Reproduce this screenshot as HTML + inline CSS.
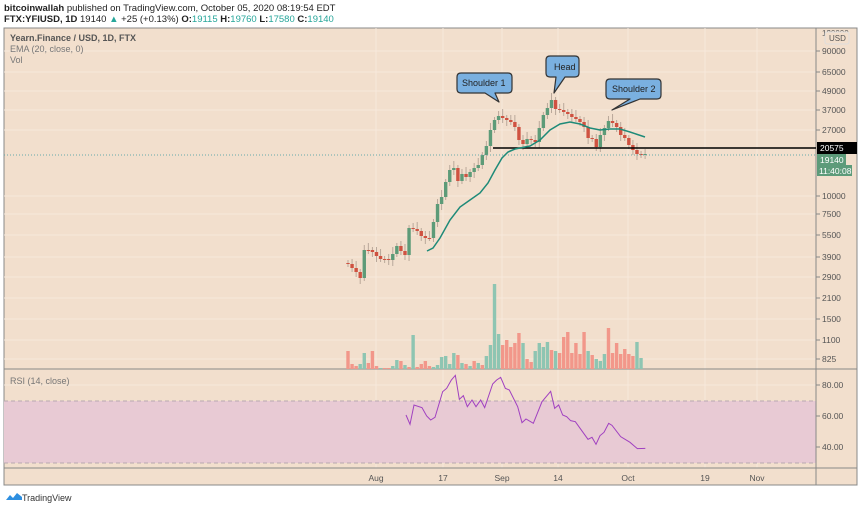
<!DOCTYPE html>
<html><head><meta charset="utf-8"><style>
body{margin:0;background:#fff;width:860px;height:509px;overflow:hidden;font-family:"Liberation Sans",sans-serif}
svg text{font-family:"Liberation Sans",sans-serif}
</style></head><body>
<svg id="s" width="860" height="509" xmlns="http://www.w3.org/2000/svg">
<text x="4" y="11" font-size="9.5" fill="#222"><tspan font-weight="bold">bitcoinwallah</tspan> published on TradingView.com, October 05, 2020 08:19:54 EDT</text>
<text x="4" y="22" font-size="9.5" fill="#222"><tspan font-weight="bold">FTX:YFIUSD, 1D</tspan> 19140 <tspan fill="#26a69a">▲</tspan> +25 (+0.13%) <tspan font-weight="bold">O:</tspan><tspan fill="#26a69a">19115</tspan> <tspan font-weight="bold">H:</tspan><tspan fill="#26a69a">19760</tspan> <tspan font-weight="bold">L:</tspan><tspan fill="#26a69a">17580</tspan> <tspan font-weight="bold">C:</tspan><tspan fill="#26a69a">19140</tspan></text>
<rect x="4" y="28" width="853" height="457" fill="#f2dfcd" stroke="#888" stroke-width="1"/>
<g id="grid" stroke="#f7e9dc" stroke-width="1"></g>
<rect x="4" y="401" width="812" height="62" fill="#e8cad4"/>
<line x1="4" y1="401" x2="816" y2="401" stroke="#b8a8b0" stroke-dasharray="4,3"/>
<line x1="4" y1="463" x2="816" y2="463" stroke="#b8a8b0" stroke-dasharray="4,3"/>
<line x1="816" y1="28" x2="816" y2="485" stroke="#888"/>
<line x1="4" y1="369" x2="857" y2="369" stroke="#888"/>
<line x1="4" y1="468" x2="857" y2="468" stroke="#888"/>
<g id="vol"></g><g id="cdl"></g>
<line x1="4" y1="155" x2="816" y2="155" stroke="#6aa" stroke-dasharray="1,2"/>
<line x1="493" y1="148" x2="816" y2="148" stroke="#000" stroke-width="1.5"/>
<polyline id="ema" fill="none" stroke="#1e8a78" stroke-width="1.5"/>
<polyline id="rsi" fill="none" stroke="#a040c0" stroke-width="1"/>
<g font-size="8.5" fill="#555" id="ax"></g>
<text x="10" y="41" font-size="9" font-weight="bold" fill="#555">Yearn.Finance / USD, 1D, FTX</text>
<text x="10" y="52" font-size="9" fill="#777">EMA (20, close, 0)</text>
<text x="10" y="63" font-size="9" fill="#777">Vol</text>
<text x="10" y="384" font-size="9" fill="#777">RSI (14, close)</text>
<text x="822" y="36" font-size="8" fill="#555">120000</text>
<rect x="825" y="32" width="24" height="12" fill="#f2dfcd" stroke="#ddd" rx="2"/><text x="829" y="41" font-size="8" fill="#555">USD</text>
<rect x="817" y="142" width="40" height="12" fill="#000"/><text x="820" y="151" font-size="8.5" fill="#fff">20575</text>
<rect x="817" y="154" width="29" height="11" fill="#5d9b7a"/><text x="820" y="163" font-size="8.5" fill="#fff">19140</text>
<rect x="817" y="165" width="35" height="11" fill="#5d9b7a"/><text x="819" y="174" font-size="8.5" fill="#fff">11:40:08</text>
<g fill="#7ab0e0" stroke="#333" stroke-width="1.2" stroke-linejoin="round">
<path d="M461,73 H508 Q512,73 512,77 V89 Q512,93 508,93 H495 L499,102 L485,93 H461 Q457,93 457,89 V77 Q457,73 461,73 Z"/>
<path d="M550,56 H575 Q579,56 579,60 V73 Q579,77 575,77 H565 L554,93 L556,77 H550 Q546,77 546,73 V60 Q546,56 550,56 Z"/>
<path d="M610,79 H657 Q661,79 661,83 V95 Q661,99 657,99 H640 L612,110 L630,99 H610 Q606,99 606,95 V83 Q606,79 610,79 Z"/>
</g>
<g font-size="9" fill="#222"><text x="462" y="86">Shoulder 1</text><text x="554" y="70">Head</text><text x="612" y="92">Shoulder 2</text></g>
<path d="M6,500 l4,-5 3,3 4,-5 5,4 l0,3 z" fill="#2e8fe0"/>
<text x="22" y="501" font-size="9" fill="#333">TradingView</text>
</svg>
<script>
const NS="http://www.w3.org/2000/svg",s=document.getElementById('s');
function el(t,a,p){const e=document.createElementNS(NS,t);for(const k in a)e.setAttribute(k,a[k]);(p||s).appendChild(e);return e;}
const grid=document.getElementById('grid'),ax=document.getElementById('ax');
const py=[[90000,51],[65000,72],[49000,91],[37000,110],[27000,130],[10000,196],[7500,214],[5500,235],[3900,257],[2900,277],[2100,298],[1500,319],[1100,340],[825,359]];
py.forEach(([v,y])=>{el('line',{x1:4,y1:y,x2:816,y2:y},grid);el('line',{x1:816,y1:y,x2:820,y2:y,stroke:'#888'});const t=el('text',{x:822,y:y+3},ax);t.textContent=v;});
[[385,'80.00'],[416,'60.00'],[447,'40.00']].forEach(([y,v])=>{el('line',{x1:4,y1:y,x2:816,y2:y},grid);el('line',{x1:816,y1:y,x2:820,y2:y,stroke:'#888'});const t=el('text',{x:822,y:y+3},ax);t.textContent=v;});
[[376,'Aug'],[443,'17'],[502,'Sep'],[558,'14'],[628,'Oct'],[705,'19'],[757,'Nov']].forEach(([x,l])=>{el('line',{x1:x,y1:28,x2:x,y2:468},grid);const t=el('text',{x:x,y:481,'text-anchor':'middle'},ax);t.textContent=l;});
const c=[264,268,272,278,250,250,252,256,259,259,260,254,246,251,255,228,229,231,236,238,238,222,204,197,182,170,168,181,174,177,172,168,165,155,146,130,120,116,118,120,122,127,140,144,139,140,142,128,115,108,100,109,110,112,114,117,119,122,127,138,139,147,135,128,121,123,127,135,138,145,150,154,155,154];
const G='#5d9b78',R='#cf5241',cg=document.getElementById('cdl');
let o=263;
c.forEach((cl,i)=>{const x=348+4.07*i,up=cl<o,col=up?G:R;const hi=Math.min(o,cl)-3-(i%3)*2,lo=Math.max(o,cl)+3+(i%4);
el('line',{x1:x,y1:hi,x2:x,y2:lo,stroke:'#b9a89a','stroke-width':1},cg);
el('rect',{x:x-1.7,y:Math.min(o,cl),width:3.4,height:Math.max(1,Math.abs(cl-o)),fill:col},cg);o=cl;});
const v=[[18,0],[5,0],[3,0],[5,1],[16,1],[6,0],[18,0],[3,0],[1,1],[1,0],[1,0],[3,1],[9,1],[8,0],[4,1],[2,0],[34,1],[2,0],[5,0],[8,0],[3,0],[2,1],[4,1],[12,1],[13,1],[5,1],[16,1],[14,0],[6,1],[5,0],[3,1],[8,0],[6,1],[4,0],[13,1],[24,1],[85,1],[35,1],[24,0],[29,0],[22,0],[26,0],[36,0],[26,1],[10,0],[7,0],[18,1],[26,1],[22,1],[27,1],[19,0],[18,1],[16,0],[32,0],[37,0],[16,0],[26,0],[15,0],[37,0],[18,1],[14,0],[10,1],[8,1],[15,1],[41,0],[16,0],[26,0],[15,0],[20,0],[15,0],[13,0],[27,1],[11,1]];
const vg=document.getElementById('vol');
v.forEach(([h,g],i)=>{const x=348+4.07*i;el('rect',{x:x-1.7,y:369-h,width:3.4,height:h,fill:g?'#8ec5b2':'#f2978a'},vg);});
document.getElementById('ema').setAttribute('points',[[427,251],[433,248],[440,238],[450,220],[460,207],[470,200],[480,193],[488,183],[495,170],[502,158],[508,152],[515,149],[530,146],[540,140],[550,130],[560,124],[570,122],[580,124],[590,128],[600,130],[610,129],[620,129],[630,132],[645,137]].join(' '));
const r=[[228,405],[240,433],[252,375],[276,383],[290,408],[302,420],[315,412],[338,335],[350,325],[364,300],[376,286],[388,358],[400,347],[412,380],[426,360],[438,380],[452,360],[464,383],[488,312],[500,300],[512,292],[526,325],[538,330],[563,380],[576,428],[588,417],[610,430],[636,365],[662,334],[674,385],[686,375],[698,405],[710,410],[722,422],[736,425],[774,478],[786,472],[798,493],[810,467],[822,457],[836,430],[846,436],[872,470],[900,487],[922,506],[946,505]];
document.getElementById('rsi').setAttribute('points',r.map(([a,b])=>[330+a/3,280+b/3]).join(' '));
</script>
</body></html>
